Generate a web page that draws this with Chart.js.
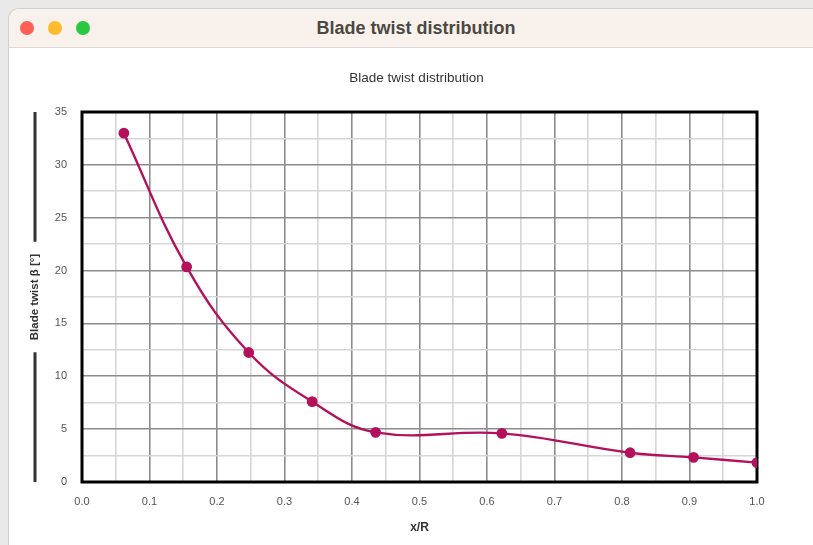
<!DOCTYPE html>
<html>
<head>
<meta charset="utf-8">
<title>Blade twist distribution</title>
<script src="https://cdn.jsdelivr.net/npm/chart.js@4/dist/chart.umd.min.js"></script>
<style>
  html, body { margin: 0; padding: 0; }
  body { width: 813px; height: 545px; overflow: hidden; background: #e9e9e9; position: relative;
         font-family: "Liberation Sans", Arial, Helvetica, sans-serif; }
  .window { position: absolute; left: 9px; top: 9px; width: 814px; height: 560px; background: #fff;
            border-radius: 10px; overflow: hidden; box-shadow: 0 0 0 1px #cfcfcf; }
  .titlebar { position: absolute; left: 0; top: 0; right: 0; height: 38px; background: #f9f1ec;
              border-bottom: 1px solid #dcd7d4; }
  .titlebar .label { position: absolute; left: 0; right: 0; top: 0; line-height: 38px; text-align: center;
                     font-weight: bold; font-size: 18px; color: #4b4845; }
  .dot { position: absolute; top: 12px; width: 14px; height: 14px; border-radius: 50%; }
  .red { left: 11px; background: #fd5f57; }
  .yellow { left: 39px; background: #febc2e; }
  .green { left: 67px; background: #28c840; }
  #chart { position: absolute; left: 10px; top: 48px; }
</style>
</head>
<body>
<div class="window">
  <div class="titlebar">
    <div class="dot red"></div><div class="dot yellow"></div><div class="dot green"></div>
    <div class="label">Blade twist distribution</div>
  </div>
</div>
<canvas id="chart" width="803" height="497"></canvas>
<script>
// Radial stations (x/R) and blade twist angle in degrees
const stations = [0.062, 0.155, 0.247, 0.341, 0.435, 0.622, 0.812, 0.906, 1.0];
const twistDeg = [33.0, 20.35, 12.25, 7.6, 4.7, 4.6, 2.77, 2.33, 1.83];

const chartTitle = 'Blade twist distribution';
const xAxisTitle = 'x/R';
const yAxisTitle = 'Blade twist β [°]';

const xMin = 0, xMax = 1, xStep = 0.05;
const yMin = 0, yMax = 35, yStep = 2.5;

const lineColor = '#b3115b';
const FONT = '"Liberation Sans", Arial, Helvetica, sans-serif';

const isMajorX = v => Math.round(v * 100) % 10 === 0;
const isMajorY = v => Math.round(v * 10) % 50 === 0;

// Black frame around the plot area, drawn beneath the curve
const framePlugin = {
  id: 'frame',
  beforeDatasetsDraw(chart) {
    const { ctx, chartArea: a } = chart;
    ctx.save();
    ctx.strokeStyle = '#000';
    ctx.lineWidth = 3;
    ctx.strokeRect(a.left, a.top, a.right - a.left, a.bottom - a.top);
    ctx.restore();
  }
};

// Chart heading, centred on the window rather than on the plot
const headingPlugin = {
  id: 'heading',
  afterDraw(chart) {
    const { ctx } = chart;
    ctx.save();
    ctx.font = '13.5px ' + FONT;
    ctx.fillStyle = '#333';
    ctx.textAlign = 'center';
    ctx.textBaseline = 'middle';
    ctx.fillText(chartTitle, 406.5, 30);
    ctx.restore();
  }
};

// Vertical axis title flanked by rule lines spanning the plot height
const yTitlePlugin = {
  id: 'yTitleRule',
  afterDraw(chart) {
    const { ctx, chartArea: a } = chart;
    const x = 25;
    const cy = (a.top + a.bottom) / 2;
    ctx.save();
    ctx.font = 'bold 11.5px ' + FONT;
    const w = ctx.measureText(yAxisTitle).width;
    const gap = 12;
    ctx.strokeStyle = '#333';
    ctx.lineWidth = 3;
    ctx.beginPath();
    ctx.moveTo(x, a.top);
    ctx.lineTo(x, cy - w / 2 - gap);
    ctx.moveTo(x, cy + w / 2 + gap);
    ctx.lineTo(x, a.bottom);
    ctx.stroke();
    ctx.translate(x, cy);
    ctx.rotate(-Math.PI / 2);
    ctx.fillStyle = '#333';
    ctx.textAlign = 'center';
    ctx.textBaseline = 'middle';
    ctx.fillText(yAxisTitle, 0, 0);
    ctx.restore();
  }
};

new Chart(document.getElementById('chart'), {
  type: 'line',
  data: {
    datasets: [{
      data: stations.map((x, i) => ({ x, y: twistDeg[i] })),
      borderColor: lineColor,
      backgroundColor: lineColor,
      borderWidth: 2.4,
      pointRadius: 4.2,
      pointHoverRadius: 4.2,
      tension: 0.4,
      fill: false
    }]
  },
  options: {
    responsive: false,
    animation: false,
    layout: { padding: { left: 0, right: 56, top: 64, bottom: 0 } },
    plugins: {
      legend: { display: false },
      tooltip: { enabled: false },
      title: { display: false }
    },
    scales: {
      x: {
        type: 'linear',
        min: xMin, max: xMax,
        afterFit(scale) { scale.height = 63; },
        ticks: {
          stepSize: xStep,
          autoSkip: false,
          maxRotation: 0,
          padding: 13,
          color: '#555',
          font: { family: FONT, size: 11 },
          callback: v => isMajorX(v) ? v.toFixed(1) : ''
        },
        grid: {
          drawTicks: false,
          lineWidth: 1.6,
          color: ctx => isMajorX(ctx.tick.value) ? '#8c8c8c' : '#d6d6d6'
        },
        border: { display: false },
        title: {
          display: true,
          text: xAxisTitle,
          color: '#333',
          font: { family: FONT, size: 12, weight: 'bold' },
          padding: { top: 0, bottom: 10 }
        }
      },
      y: {
        type: 'linear',
        min: yMin, max: yMax,
        afterFit(scale) { scale.width = 72; },
        ticks: {
          stepSize: yStep,
          autoSkip: false,
          padding: 15,
          color: '#555',
          font: { family: FONT, size: 11 },
          callback: v => isMajorY(v) ? String(v) : ''
        },
        grid: {
          drawTicks: false,
          lineWidth: 1.6,
          color: ctx => isMajorY(ctx.tick.value) ? '#8c8c8c' : '#d6d6d6'
        },
        border: { display: false }
      }
    }
  },
  plugins: [framePlugin, headingPlugin, yTitlePlugin]
});
</script>
</body>
</html>
